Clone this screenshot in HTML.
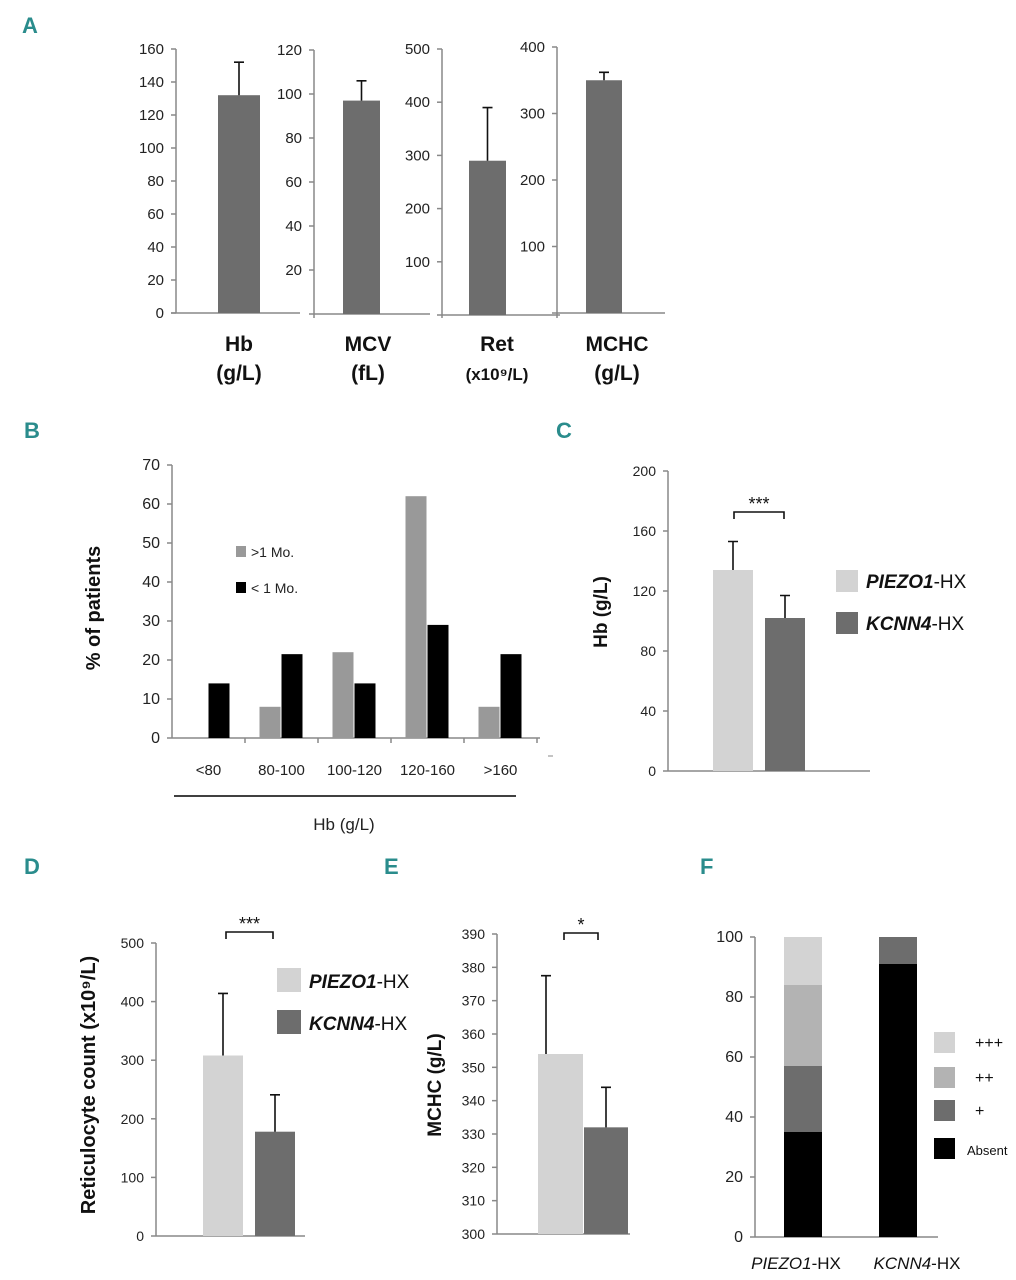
<!DOCTYPE html>
<html><head><meta charset="utf-8"><style>
html,body{margin:0;padding:0;background:#fff;width:1016px;height:1280px;overflow:hidden}
svg{display:block;font-family:"Liberation Sans",sans-serif}
.pl{font-family:"Liberation Sans",sans-serif;font-weight:bold;font-size:22px;fill:#2a8c8c}
</style></head><body>
<svg id="fig" width="1016" height="1280" viewBox="0 0 1016 1280">
<text class="pl" x="22" y="33">A</text>
<text class="pl" x="24" y="438">B</text>
<text class="pl" x="556" y="438">C</text>
<text class="pl" x="24" y="874">D</text>
<text class="pl" x="384" y="874">E</text>
<text class="pl" x="700" y="874">F</text>
</svg>
<script>
// Panel A data
const aMetrics = ["Hb","MCV","Ret","MCHC"];
const aValues = [132, 97, 290, 350];
const aErrors = [152, 106, 390, 362];
const aTicks = [[0,20,40,60,80,100,120,140,160],[20,40,60,80,100,120],[100,200,300,400,500],[100,200,300,400]];
const aUnits = ["(g/L)","(fL)","(x10\u2079/L)","(g/L)"];
// Panel B data
const bCategories = ["<80","80-100","100-120","120-160",">160"];
const bOver1Mo = [0, 8, 22, 62, 8];
const bUnder1Mo = [14, 21.5, 14, 29, 21.5];
const bTicks = [0,10,20,30,40,50,60,70];
// Panel C data
const cGroups = ["PIEZO1","KCNN4"];
const cValues = [134, 102];
const cErrors = [153, 117];
const cTicks = [0,40,80,120,160,200];
// Panel D data
const dValues = [308, 178];
const dErrors = [414, 241];
const dTicks = [0,100,200,300,400,500];
// Panel E data
const eValues = [354, 332];
const eErrors = [377.5, 344];
const eTicks = [300,310,320,330,340,350,360,370,380,390];
// Panel F data
const fGroups = ["PIEZO1","KCNN4"];
const fAbsent = [35, 91];
const fPlus = [22, 9];
const fPlus2 = [27, 0];
const fPlus3 = [16, 0];
const fTicks = [0,20,40,60,80,100];

const NS="http://www.w3.org/2000/svg";
const svg=document.getElementById('fig');
function el(tag,attrs,parent,txt){const e=document.createElementNS(NS,tag);for(const k in attrs)e.setAttribute(k,attrs[k]);if(txt!==undefined)e.textContent=txt;(parent||svg).appendChild(e);return e;}
function scale(v0,y0,v1,y1){return v=>y0+(v-v0)*(y1-y0)/(v1-v0);}
function yAxis(g,x,yTop,yBot,ticks,sc,fs,name){
  const ax=el('line',{x1:x,y1:yTop,x2:x,y2:yBot,stroke:'#888','stroke-width':1.5},g);
  
  ticks.forEach(t=>{const y=sc(t);
    el('line',{x1:x-5,y1:y,x2:x,y2:y,stroke:'#888','stroke-width':1.5},g);
    const tx=el('text',{x:x-12,y:y+5,'text-anchor':'end','font-size':fs,fill:'#222'},g,String(t));
    });
}
function bar(g,x,w,yTop,yBot,fill,name){const r=el('rect',{x:x,y:Math.min(yTop,yBot),width:w,height:Math.abs(yBot-yTop),fill:fill},g);
  return r;}
function err(g,cx,y0,y1,name){const p=el('path',{d:`M${cx} ${y0}V${y1}M${cx-5} ${y1}H${cx+5}`,stroke:'#111','stroke-width':1.6,fill:'none'},g);
  }

// ---- Panel A ----
const aAxes=[{x:176,v0:0,y0:313,v1:160,y1:49,top:49,bot:313,bx:218,bw:42,lx:239,xe:300},
 {x:314,v0:0,y0:314,v1:120,y1:50,top:50,bot:318,bx:343,bw:37,lx:368,xe:430},
 {x:442,v0:0,y0:315,v1:500,y1:49,top:49,bot:318,bx:469,bw:37,lx:497,xe:560},
 {x:557,v0:0,y0:313,v1:400,y1:47,top:47,bot:318,bx:586,bw:36,lx:617,xe:665}];
const gA=el('g',{});
aMetrics.forEach((m,i)=>{const a=aAxes[i];const sc=scale(a.v0,a.y0,a.v1,a.y1);
  yAxis(gA,a.x,a.top,a.bot,aTicks[i],sc,15,'a-'+m.toLowerCase());
  el('line',{x1:a.x-5,y1:a.y0,x2:a.xe,y2:a.y0,stroke:'#888','stroke-width':1.5},gA);
  bar(gA,a.bx,a.bw,sc(aValues[i]),sc(0),'#6d6d6d','bar-'+m.toLowerCase());
  err(gA,a.bx+a.bw/2,sc(aValues[i]),sc(aErrors[i]),'error-'+m.toLowerCase());
  const t1=el('text',{x:a.lx,y:351,'text-anchor':'middle','font-size':21,'font-weight':'bold',fill:'#111'},gA,m);
  
  const t2=el('text',{x:a.lx,y:380,'text-anchor':'middle','font-size':i==2?17:21,'font-weight':'bold',fill:'#111'},gA,aUnits[i]);
  
});

// ---- Panel B ----
const gB=el('g',{});
const bY=scale(0,738,70,465);
yAxis(gB,172,465,738,bTicks,bY,16,'b');
el('line',{x1:172,y1:738,x2:540,y2:738,stroke:'#888','stroke-width':1.5},gB);
el('line',{x1:548,y1:756,x2:553,y2:756,stroke:'#888','stroke-width':1},gB);
bCategories.forEach((c,i)=>{const x0=172+73*i;const cx=x0+36.5;
  el('line',{x1:x0+73,y1:738,x2:x0+73,y2:743,stroke:'#888','stroke-width':1.5},gB);
  if(bOver1Mo[i]>0)bar(gB,cx-22,21,bY(bOver1Mo[i]),bY(0),'#999','bar-over-1mo-'+i);
  bar(gB,cx,21,bY(bUnder1Mo[i]),bY(0),'#000','bar-under-1mo-'+i);
  const t=el('text',{x:cx,y:775,'text-anchor':'middle','font-size':15,fill:'#222'},gB,c);
  });
el('line',{x1:174,y1:796,x2:516,y2:796,stroke:'#000','stroke-width':1.5},gB);
let t=el('text',{x:344,y:830,'text-anchor':'middle','font-size':17,fill:'#222'},gB,'Hb (g/L)');

t=el('text',{transform:'translate(100,608) rotate(-90)','text-anchor':'middle','font-size':20,'font-weight':'bold',fill:'#111'},gB,'% of patients');

let r=el('rect',{x:236,y:546,width:10,height:11,fill:'#999'},gB);
t=el('text',{x:251,y:557,'font-size':14,fill:'#222'},gB,'>1 Mo.');
r=el('rect',{x:236,y:582,width:10,height:11,fill:'#000'},gB);
t=el('text',{x:251,y:593,'font-size':14,fill:'#222'},gB,'< 1 Mo.');

function hxLegend(g,x,y1,y2,sz,fs,pre){
  let r=el('rect',{x:x,y:y1,width:sz,height:sz,fill:'#d3d3d3'},g);
  let t=el('text',{x:x+sz+8,y:y1+sz-4,'font-size':fs,fill:'#111'},g);
  el('tspan',{'font-style':'italic','font-weight':'bold'},t,'PIEZO1');el('tspan',{},t,'-HX');
  r=el('rect',{x:x,y:y2,width:sz,height:sz,fill:'#6d6d6d'},g);
  t=el('text',{x:x+sz+8,y:y2+sz-4,'font-size':fs,fill:'#111'},g);
  el('tspan',{'font-style':'italic','font-weight':'bold'},t,'KCNN4');el('tspan',{},t,'-HX');
}
function bracket(g,x1,x2,y,label,name){const p=el('path',{d:`M${x1} ${y+7}V${y}H${x2}V${y+7}`,stroke:'#111','stroke-width':1.6,fill:'none'},g);
  
  const t=el('text',{x:(x1+x2)/2,y:y-2,'text-anchor':'middle','font-size':18,fill:'#111'},g,label);
  }

// ---- Panel C ----
const gC=el('g',{});
const cY=scale(0,771,200,471);
yAxis(gC,668,471,771,cTicks,cY,14,'c');
el('line',{x1:668,y1:771,x2:870,y2:771,stroke:'#888','stroke-width':1.5},gC);
const cX=[713,765],cF=['#d3d3d3','#6d6d6d'];
cGroups.forEach((g,i)=>{bar(gC,cX[i],40,cY(cValues[i]),cY(0),cF[i],'c-bar-'+g.toLowerCase());err(gC,cX[i]+20,cY(cValues[i]),cY(cErrors[i]),'c-error-'+g.toLowerCase());});
bracket(gC,734,784,512,'***','c');
t=el('text',{transform:'translate(607,612) rotate(-90)','text-anchor':'middle','font-size':19,'font-weight':'bold',fill:'#111'},gC,'Hb (g/L)');

hxLegend(gC,836,570,612,22,19,'c');

// ---- Panel D ----
const gD=el('g',{});
const dY=scale(0,1236,500,943);
yAxis(gD,156,943,1236,dTicks,dY,14,'d');
el('line',{x1:156,y1:1236,x2:305,y2:1236,stroke:'#888','stroke-width':1.5},gD);
const dX=[203,255];
dValues.forEach((v,i)=>{bar(gD,dX[i],40,dY(v),dY(0),cF[i],'d-bar-'+cGroups[i].toLowerCase());err(gD,dX[i]+20,dY(v),dY(dErrors[i]),'d-error-'+cGroups[i].toLowerCase());});
bracket(gD,226,273,932,'***','d');
t=el('text',{transform:'translate(95,1085) rotate(-90)','text-anchor':'middle','font-size':20,'font-weight':'bold',fill:'#111'},gD,'Reticulocyte count (x10\u2079/L)');

hxLegend(gD,277,968,1010,24,19,'d');

// ---- Panel E ----
const gE=el('g',{});
const eY=scale(300,1234,390,934);
yAxis(gE,497,934,1234,eTicks,eY,14,'e');
el('line',{x1:497,y1:1234,x2:630,y2:1234,stroke:'#888','stroke-width':1.5},gE);
const eX=[538,584];
eValues.forEach((v,i)=>{bar(gE,eX[i],i?44:45,eY(v),eY(300),cF[i],'e-bar-'+cGroups[i].toLowerCase());err(gE,eX[i]+(i?22:8),eY(v),eY(eErrors[i]),'e-error-'+cGroups[i].toLowerCase());});
bracket(gE,564,598,933,'*','e');
t=el('text',{transform:'translate(441,1085) rotate(-90)','text-anchor':'middle','font-size':19,'font-weight':'bold',fill:'#111'},gE,'MCHC (g/L)');


// ---- Panel F ----
const gF=el('g',{});
const fY=scale(0,1237,100,937);
yAxis(gF,755,937,1237,fTicks,fY,16,'f');
el('line',{x1:755,y1:1237,x2:938,y2:1237,stroke:'#888','stroke-width':1.5},gF);
const fX=[784,879];
const fLabelX=[796,917];
const fSeries=[[fAbsent,'#000','absent'],[fPlus,'#6d6d6d','plus'],[fPlus2,'#b3b3b3','plus2'],[fPlus3,'#d3d3d3','plus3']];
fGroups.forEach((g,i)=>{let cum=0;fSeries.forEach(s=>{const v=s[0][i];if(v>0)bar(gF,fX[i],38,fY(cum+v),fY(cum),s[1],'f-bar-'+g.toLowerCase()+'-'+s[2]);cum+=v;});
  const t=el('text',{x:fLabelX[i],y:1269,'text-anchor':'middle','font-size':17,fill:'#111'},gF);
  
  el('tspan',{'font-style':'italic'},t,g);el('tspan',{},t,'-HX');
});
const fLeg=[['+++','#d3d3d3',1032],['++','#b3b3b3',1067],['+','#6d6d6d',1100],['Absent','#000',1138]];
fLeg.forEach((l,i)=>{const r=el('rect',{x:934,y:l[2],width:21,height:21,fill:l[1]},gF);
  const t=el('text',{x:i==3?967:975,y:l[2]+(i==3?17:16),'font-size':i==3?13:16,fill:'#111'},gF,l[0]);});
</script>
</body></html>
